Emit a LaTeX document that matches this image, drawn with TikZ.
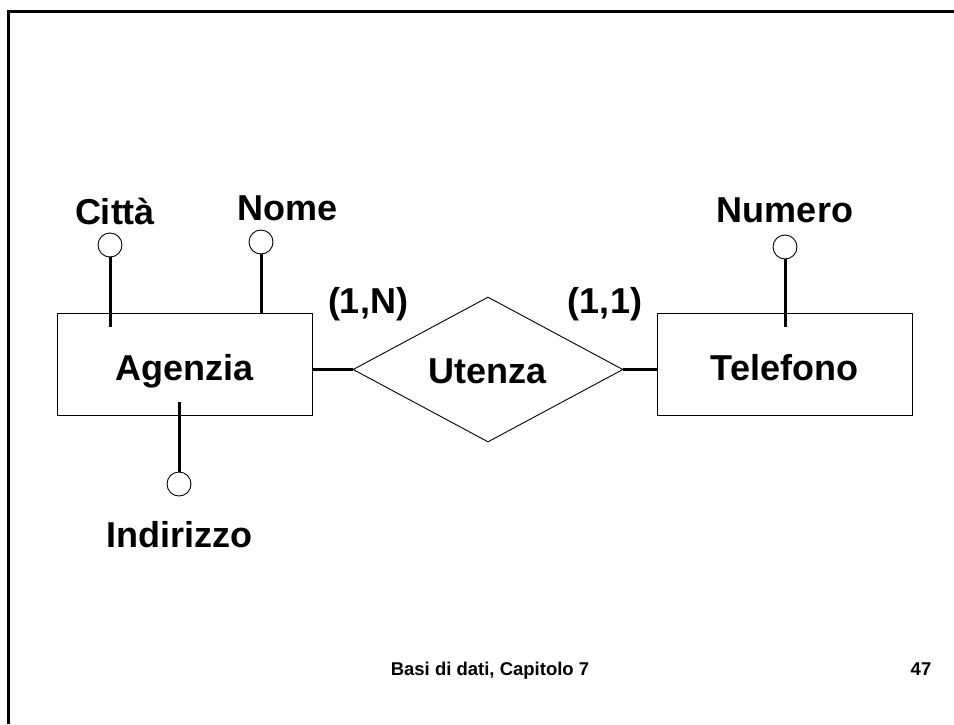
\documentclass[tikz,border=0pt]{standalone}
\usepackage{fontspec}
\setmainfont{Liberation Sans}
\usetikzlibrary{shapes.geometric}
\begin{document}
\begin{tikzpicture}[x=1pt,y=-1pt,
  bigfont/.style={font=\fontsize{36}{40}\selectfont\bfseries},
  entity/.style={draw,line width=0.9pt,minimum width=255pt,minimum height=102pt,inner sep=0pt,bigfont,text height=31pt,text depth=0pt},
  relation/.style={draw,diamond,line width=0.9pt,minimum width=270pt,minimum height=145pt,inner sep=0pt,aspect=1.86,bigfont,text height=27pt,text depth=0pt},
  attr/.style={draw,circle,line width=0.9pt,minimum size=24pt,inner sep=0pt},
  lbl/.style={inner sep=0pt,anchor=base,bigfont},
  link/.style={line width=3pt},
  foot/.style={inner sep=0pt,anchor=base,font=\fontsize{18.5}{22}\selectfont\bfseries}]
\useasboundingbox (0,0) rectangle (954,724);
\fill[white] (0,0) rectangle (954,724);
% slide frame (top and left edges)
\draw[line width=3pt] (8,724) -- (8,11) -- (954,11);

% entities and relationship
\node[entity] (agenzia) at (184.5,364.5) {Agenzia};
\node[entity] (telefono) at (784.5,364.5) {Telefono};
\node[relation] (utenza) at (488,369.5) {Utenza};

\draw[link] (utenza.west) -- (utenza.west -| agenzia.east);
\draw[link] (utenza.east) -- (utenza.east -| telefono.west);

% cardinalities
\node[lbl] (cardN) at (368,313) {(1,N)};
\node[lbl] (card1) at (605,313) {(1,1)};

% attributes of Agenzia
\node[attr] (citta) at (110,245) {};
\coordinate (cittaend) at (110,327);
\draw[link] (citta.south) -- (cittaend);
\node[lbl] (cittalbl) at (115,224) {Città};

\node[attr] (nome) at (261,242) {};
\coordinate (nomeend) at (261,313);
\draw[link] (nome.south) -- (nomeend);
\node[lbl] (nomelbl) at (288,220) {Nome};

\node[attr] (indirizzo) at (179,484) {};
\coordinate (indirizzoend) at (179,402);
\draw[link] (indirizzo.north) -- (indirizzoend);
\node[lbl] (indirizzolbl) at (179,547) {Indirizzo};

% attribute of Telefono
\node[attr] (numero) at (785,247) {};
\coordinate (numeroend) at (785,327);
\draw[link] (numero.south) -- (numeroend);
\node[lbl] (numerolbl) at (785,222) {Numero};

% footer
\node[foot] (footer) at (490,675) {Basi di dati, Capitolo 7};
\node[foot] (page) at (921,675) {47};
\end{tikzpicture}
\end{document}
